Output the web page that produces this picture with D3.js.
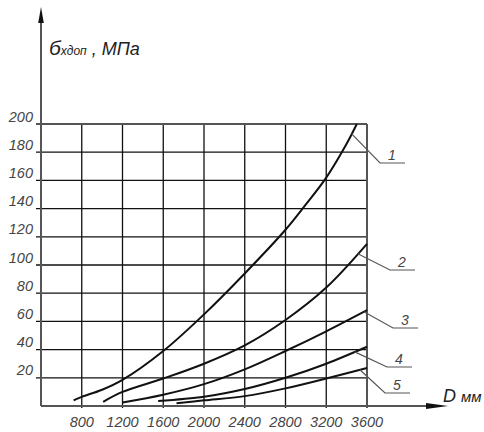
<!DOCTYPE html>
<html>
<head>
<meta charset="utf-8">
<script src="https://cdn.jsdelivr.net/npm/d3@7"></script>
<style>
  body { margin: 0; background: #fff; }
  text { font-family: "Liberation Sans", Arial, sans-serif; font-style: italic; }
</style>
</head>
<body>
<svg width="484" height="432"></svg>
<script>
// tick values
const xTicks = [800, 1200, 1600, 2000, 2400, 2800, 3200, 3600];
const yTicks = [20, 40, 60, 80, 100, 120, 140, 160, 180, 200];

// curves: [D mm, stress MPa]
const curve1 = [[720, 4], [800, 6.5], [1000, 11.5], [1200, 18.5], [1600, 39], [2000, 65], [2400, 94], [2800, 125], [3000, 143], [3200, 162], [3400, 186], [3500, 200]];
const curve2 = [[1010, 3], [1200, 10], [1600, 19.5], [2000, 30], [2400, 43], [2800, 61], [3200, 84], [3600, 115]];
const curve3 = [[1200, 2.5], [1600, 8], [2000, 15.5], [2400, 26], [2800, 39], [3200, 53], [3600, 68]];
const curve4 = [[1550, 3.5], [2000, 6.5], [2400, 12], [2800, 20], [3200, 30], [3600, 42]];
const curve5 = [[1730, 2], [2000, 4], [2400, 7], [2800, 12.5], [3200, 19.5], [3600, 27]];

const curveNames = ["1", "2", "3", "4", "5"];
const curves = [curve1, curve2, curve3, curve4, curve5];
// D value where each leader line touches its curve
const leaderAt = [3450, 3510, 3570, 3480, 3530];

const svg = d3.select("svg");
const x = d3.scaleLinear().domain([400, 3600]).range([41, 367]);
const y = d3.scaleLinear().domain([0, 200]).range([406, 124]);

// grid
const grid = svg.append("g").attr("stroke", "#111").attr("stroke-width", 1.3);
grid.selectAll("line.h")
  .data(yTicks.slice(0, -1))
  .join("line")
  .attr("x1", x(400) - 5).attr("x2", x(3600))
  .attr("y1", d => y(d)).attr("y2", d => y(d));
grid.selectAll("line.v")
  .data(xTicks.slice(0, -1))
  .join("line")
  .attr("x1", d => x(d)).attr("x2", d => x(d))
  .attr("y1", y(200)).attr("y2", y(0) + 2);

// frame (top line, right border)
const frame = svg.append("g").attr("stroke", "#555").attr("stroke-width", 2).attr("fill", "none");
frame.append("line").attr("x1", x(400) - 5).attr("x2", x(3600)).attr("y1", y(200)).attr("y2", y(200));
frame.append("line").attr("x1", x(3600)).attr("x2", x(3600)).attr("y1", y(200)).attr("y2", y(0) + 2);

// axes with arrows
frame.append("line").attr("x1", x(400)).attr("x2", x(400)).attr("y1", y(0)).attr("y2", 18);
frame.append("line").attr("x1", x(400)).attr("x2", 430).attr("y1", y(0)).attr("y2", y(0));
svg.append("path")
  .attr("d", `M${x(400)},7 L${x(400) - 2.8},23 L${x(400) + 2.8},23 Z`)
  .attr("fill", "#111");
svg.append("path")
  .attr("d", `M448,${y(0)} L426,${y(0) - 3} L426,${y(0) + 3} Z`)
  .attr("fill", "#111");

// tick labels
svg.append("g").selectAll("text")
  .data(yTicks)
  .join("text")
  .attr("x", 33).attr("y", d => y(d) - 2.5)
  .attr("text-anchor", "end")
  .attr("font-size", 14.5).attr("fill", "#444")
  .text(d => d);
svg.append("g").selectAll("text")
  .data(xTicks)
  .join("text")
  .attr("x", d => x(d)).attr("y", 427)
  .attr("text-anchor", "middle")
  .attr("font-size", 14.5).attr("fill", "#444")
  .text(d => d);

// axis titles
const yt = svg.append("text").attr("x", 49).attr("y", 55).attr("fill", "#222");
yt.append("tspan").attr("font-size", 21).text("б");
yt.append("tspan").attr("font-size", 12).text("хдоп");
yt.append("tspan").attr("font-size", 18).text(" , МПа");
const xt = svg.append("text").attr("x", 443).attr("y", 402).attr("fill", "#222");
xt.append("tspan").attr("font-size", 18).text("D ");
xt.append("tspan").attr("font-size", 15).text("мм");

// curves
const line = d3.line()
  .x(d => x(d[0]))
  .y(d => y(d[1]))
  .curve(d3.curveCatmullRom.alpha(0.5));
svg.append("g").selectAll("path")
  .data(curves)
  .join("path")
  .attr("d", line)
  .attr("fill", "none")
  .attr("stroke", "#111")
  .attr("stroke-width", 2);

// leader callouts
const elbows = [[380, 163], [390, 270], [393, 328], [387, 367], [385, 393]];
const valueAt = (c, D) => {
  const i = d3.bisector(d => d[0]).left(c, D);
  const a = c[Math.max(0, i - 1)], b = c[Math.min(c.length - 1, i)];
  const t = b[0] === a[0] ? 0 : (D - a[0]) / (b[0] - a[0]);
  return a[1] + t * (b[1] - a[1]);
};
const leaders = svg.append("g");
curves.forEach((c, i) => {
  const px = x(leaderAt[i]), py = y(valueAt(c, leaderAt[i]));
  const [ex, ey] = elbows[i];
  leaders.append("path")
    .attr("d", `M${px},${py} L${ex},${ey} L${ex + 25},${ey}`)
    .attr("fill", "none").attr("stroke", "#555").attr("stroke-width", 1.2);
  leaders.append("text")
    .attr("x", ex + 12).attr("y", ey - 3)
    .attr("text-anchor", "middle")
    .attr("font-size", 14).attr("fill", "#444")
    .text(curveNames[i]);
});
</script>
</body>
</html>
